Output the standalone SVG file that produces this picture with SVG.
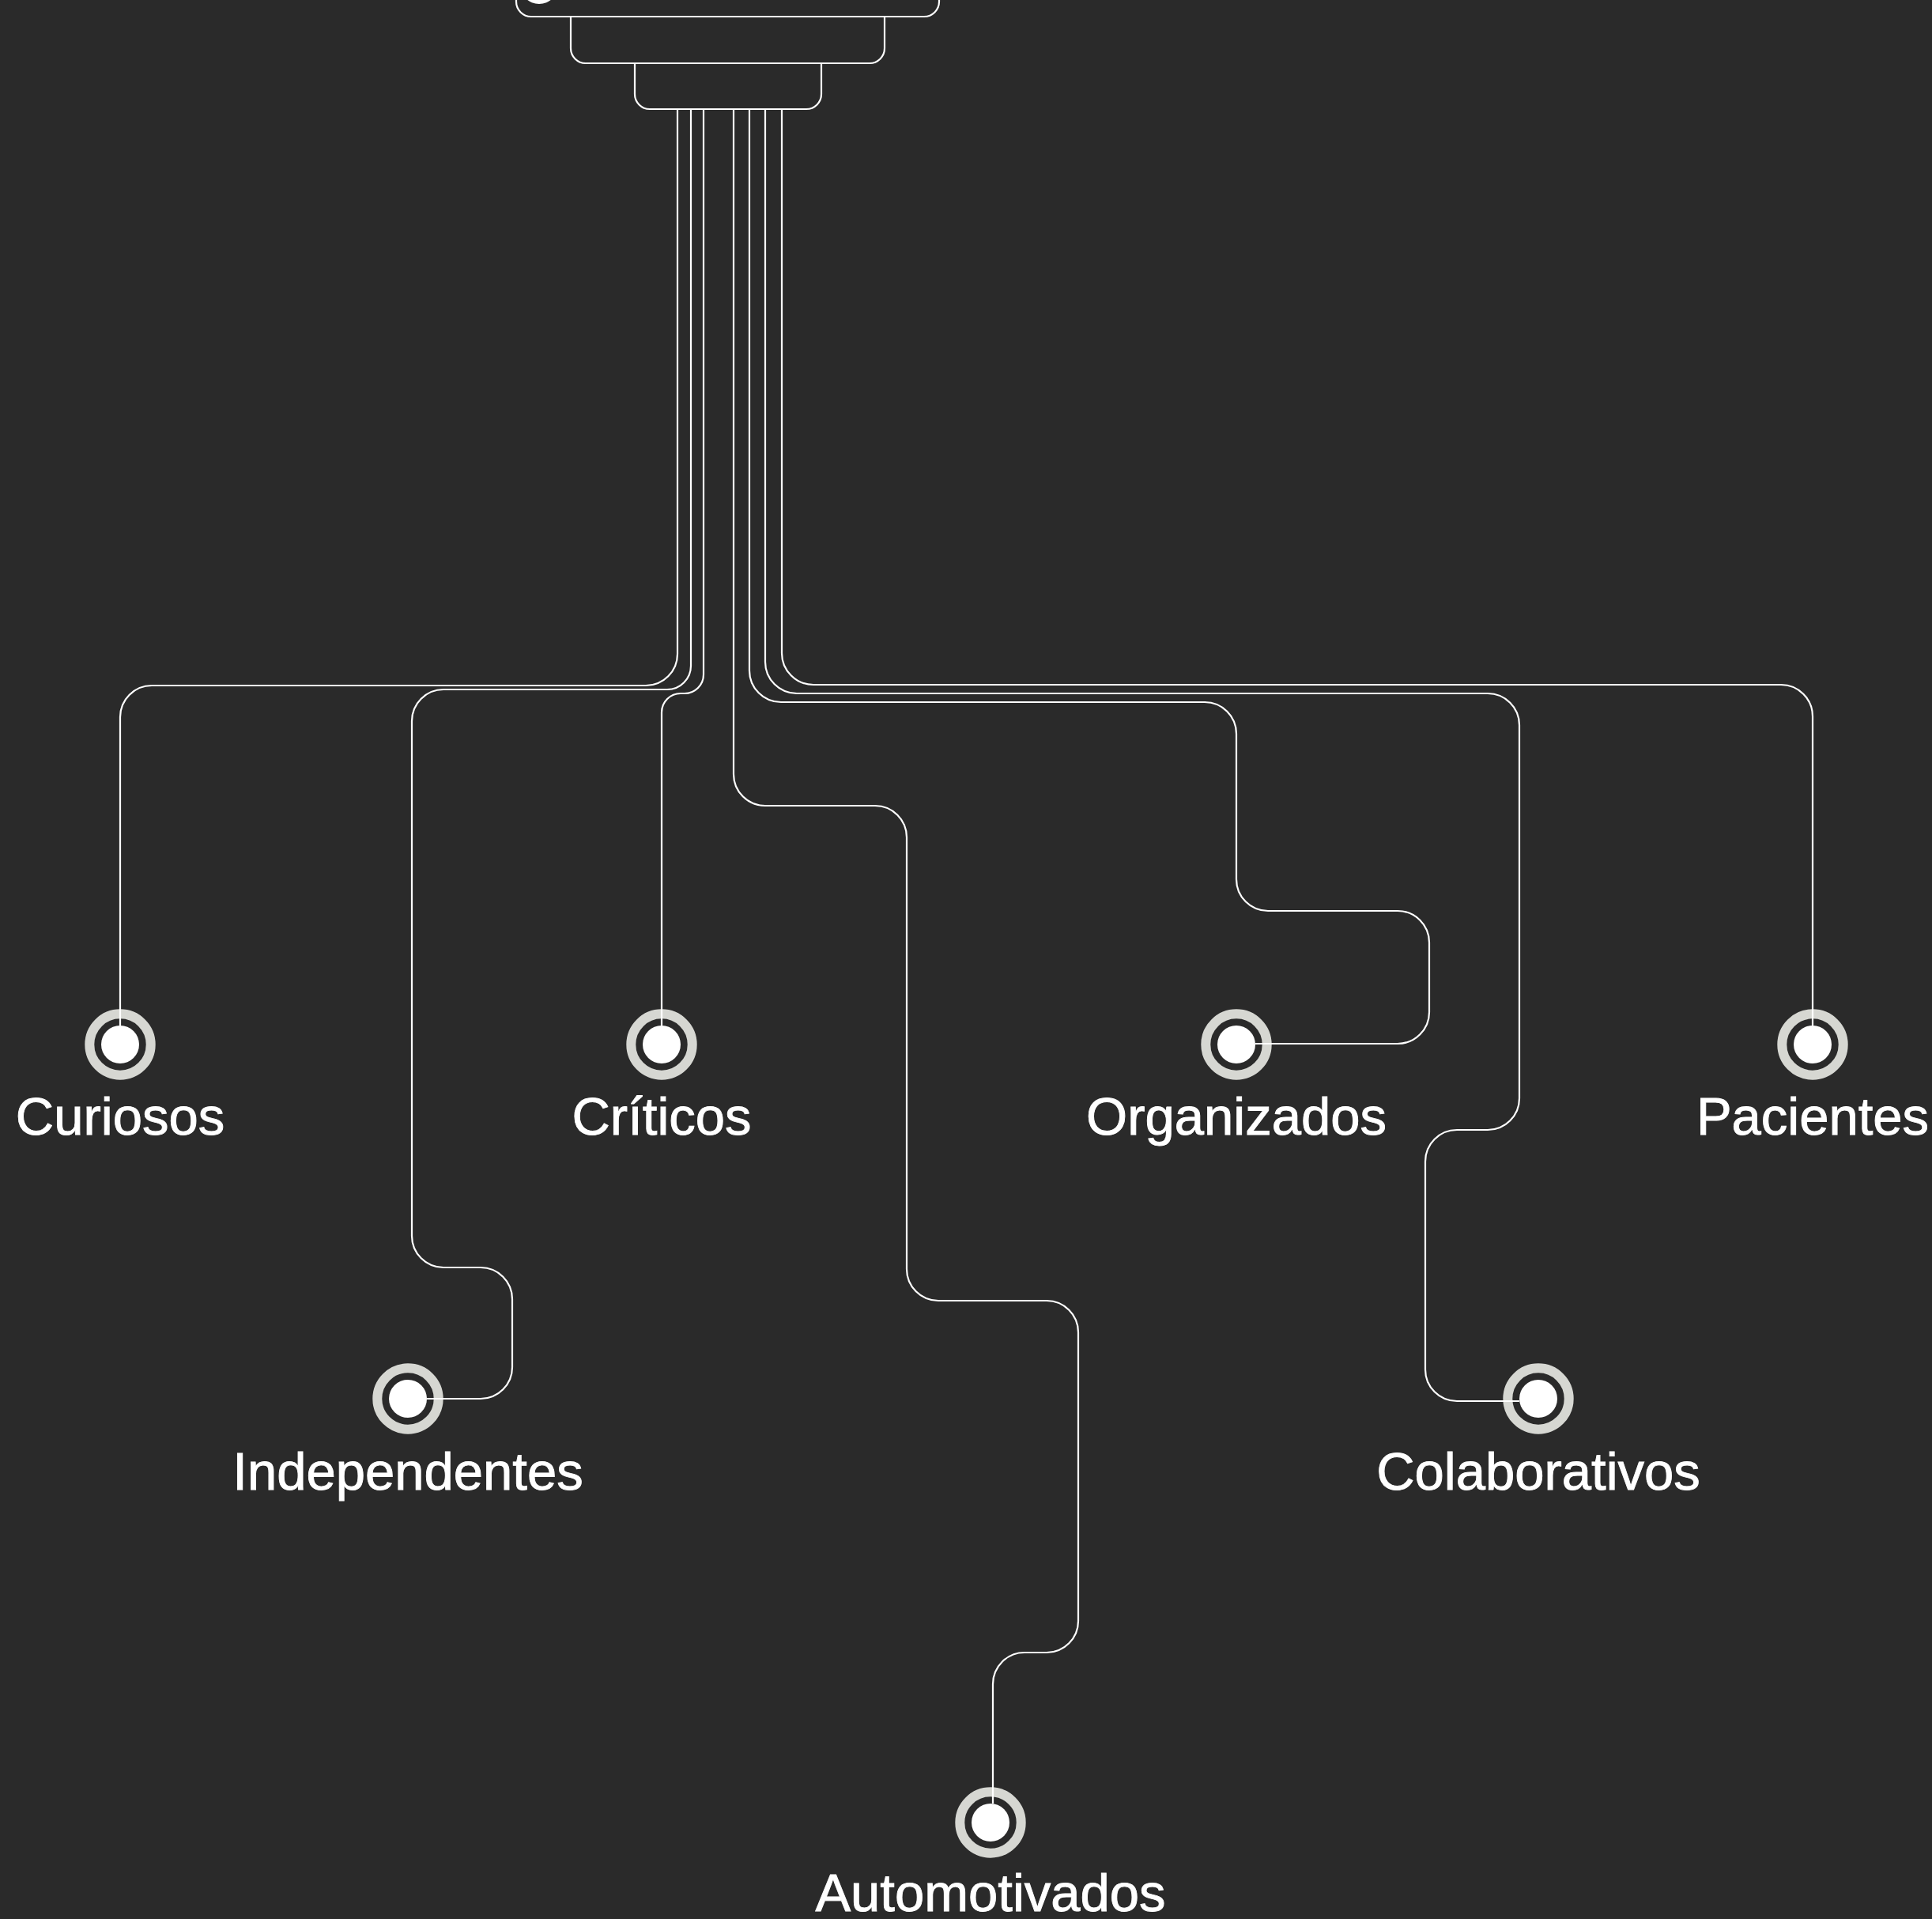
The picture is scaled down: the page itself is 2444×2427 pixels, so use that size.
<svg xmlns="http://www.w3.org/2000/svg" width="2444" height="2427" viewBox="0 0 2444 2427">
<defs>
<style>
.bg{fill:#2a2a2a}
.frame{fill:none;stroke:#ffffff;stroke-width:2.2}
.wire{fill:none;stroke:#ffffff;stroke-width:2.2;stroke-linecap:butt}
.ring{fill:none;stroke:#d6d7d2;stroke-width:12}
.dot{fill:#ffffff}
.label{font-family:"Liberation Sans",Arial,sans-serif;font-size:67px;fill:#ffffff;stroke:#ffffff;stroke-width:0.9;text-anchor:middle}
</style>
</defs>
<rect class="bg" x="0" y="0" width="2444" height="2427"/>
<g id="hub">
<circle class="dot" cx="682" cy="-19" r="24"/>
<path class="frame" d="M653,-40 V2 A19 19 0 0 0 672,21 H1169 A19 19 0 0 0 1188,2 V-40"/>
<path class="frame" d="M722,21 V61 A19 19 0 0 0 741,80 H1100 A19 19 0 0 0 1119,61 V21"/>
<path class="frame" d="M803,80 V119 A19 19 0 0 0 822,138 H1020 A19 19 0 0 0 1039,119 V80"/>
</g>
<g id="node-curiosos">
<circle class="ring" cx="152" cy="1321" r="38.7"/>
<circle class="dot" cx="152" cy="1321" r="24"/>
<text class="label" x="152" y="1435">Curiosos</text>
</g>
<g id="node-criticos">
<circle class="ring" cx="837" cy="1321" r="38.7"/>
<circle class="dot" cx="837" cy="1321" r="24"/>
<text class="label" x="837" y="1435">Críticos</text>
</g>
<g id="node-organizados">
<circle class="ring" cx="1564" cy="1321" r="38.7"/>
<circle class="dot" cx="1564" cy="1321" r="24"/>
<text class="label" x="1564" y="1435">Organizados</text>
</g>
<g id="node-pacientes">
<circle class="ring" cx="2293" cy="1321" r="38.7"/>
<circle class="dot" cx="2293" cy="1321" r="24"/>
<text class="label" x="2293" y="1435">Pacientes</text>
</g>
<g id="node-independentes">
<circle class="ring" cx="516" cy="1769" r="38.7"/>
<circle class="dot" cx="516" cy="1769" r="24"/>
<text class="label" x="516" y="1884">Independentes</text>
</g>
<g id="node-colaborativos">
<circle class="ring" cx="1946" cy="1769" r="38.7"/>
<circle class="dot" cx="1946" cy="1769" r="24"/>
<text class="label" x="1946" y="1884">Colaborativos</text>
</g>
<g id="node-automotivados">
<circle class="ring" cx="1253" cy="2305" r="38.7"/>
<circle class="dot" cx="1253" cy="2305" r="24"/>
<text class="label" x="1253" y="2417">Automotivados</text>
</g>
<g id="connectors">
<path class="wire" d="M857,138 V827 A40 40 0 0 1 817,867 H192 A40 40 0 0 0 152,907 V1297"/>
<path class="wire" d="M874,138 V842 A30 30 0 0 1 844,872 H561 A40 40 0 0 0 521,912 V1563 A40 40 0 0 0 561,1603 H608 A40 40 0 0 1 648,1643 V1729 A40 40 0 0 1 608,1769 H540"/>
<path class="wire" d="M890,138 V853 A24 24 0 0 1 866,877 H861 A24 24 0 0 0 837,901 V1297"/>
<path class="wire" d="M928,138 V979 A40 40 0 0 0 968,1019 H1107 A40 40 0 0 1 1147,1059 V1605 A40 40 0 0 0 1187,1645 H1324 A40 40 0 0 1 1364,1685 V2050 A40 40 0 0 1 1324,2090 H1296 A40 40 0 0 0 1256,2130 V2281"/>
<path class="wire" d="M948,138 V848 A40 40 0 0 0 988,888 H1524 A40 40 0 0 1 1564,928 V1112 A40 40 0 0 0 1604,1152 H1768 A40 40 0 0 1 1808,1192 V1280 A40 40 0 0 1 1768,1320 H1588"/>
<path class="wire" d="M968,138 V837 A40 40 0 0 0 1008,877 H1882 A40 40 0 0 1 1922,917 V1389 A40 40 0 0 1 1882,1429 H1843 A40 40 0 0 0 1803,1469 V1732 A40 40 0 0 0 1843,1772 H1922"/>
<path class="wire" d="M989,138 V826 A40 40 0 0 0 1029,866 H2253 A40 40 0 0 1 2293,906 V1297"/>
</g>
</svg>
